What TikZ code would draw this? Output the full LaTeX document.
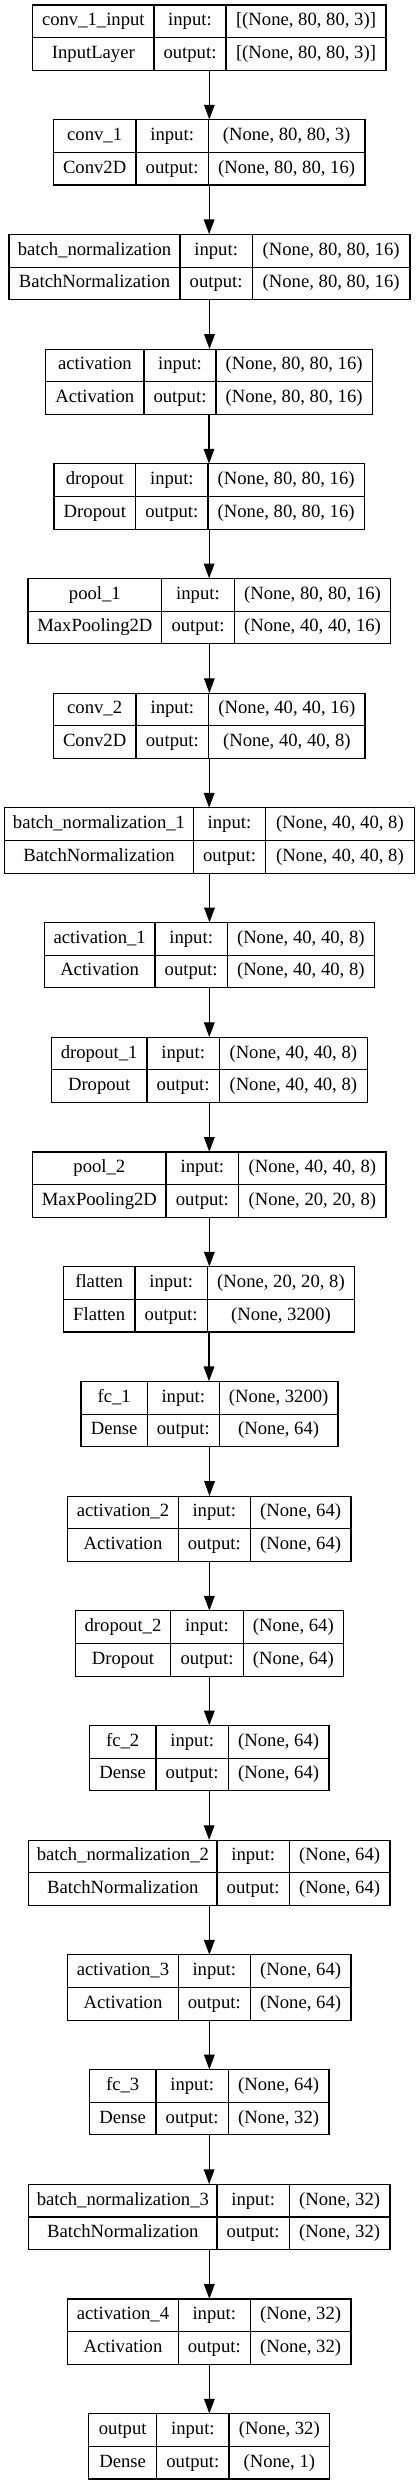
\documentclass[tikz,border=0pt]{standalone}
\usepackage{fontspec}
\setmainfont{Liberation Serif}
\usetikzlibrary{arrows.meta}
\tikzset{
  cell/.style={draw, line width=0.8pt, inner sep=0pt, text height=9.6pt, text depth=3pt,
    font=\fontsize{14pt}{16pt}\selectfont},
  layerbox/.style={inner sep=0pt, draw=none},
  arr/.style={line width=0.8pt, -{Triangle[length=11pt,width=8pt]}},
}
\newcommand{\klayer}[9]{%
  \pgfmathsetmacro{\kty}{5+114.7*#1}%
  \pgfmathsetmacro{\kmy}{\kty+32.65}%
  \pgfmathsetmacro{\krA}{\kty+16.325}%
  \pgfmathsetmacro{\krB}{\kty+48.975}%
  \node[layerbox, minimum width={(#5-#2)*0.75pt}, minimum height={65.3*0.75pt}] (L#1) at ({(#2+#5)/2},\kmy) {};
  \node[cell, minimum width={(#3-#2)*0.75pt}, minimum height={32.65*0.75pt}] (L#1a) at ({(#2+#3)/2},\krA) {#6};
  \node[cell, minimum width={(#4-#3)*0.75pt}, minimum height={32.65*0.75pt}] (L#1b) at ({(#3+#4)/2},\krA) {input:};
  \node[cell, minimum width={(#5-#4)*0.75pt}, minimum height={32.65*0.75pt}] (L#1c) at ({(#4+#5)/2},\krA) {#8};
  \node[cell, minimum width={(#3-#2)*0.75pt}, minimum height={32.65*0.75pt}] (L#1d) at ({(#2+#3)/2},\krB) {#7};
  \node[cell, minimum width={(#4-#3)*0.75pt}, minimum height={32.65*0.75pt}] (L#1e) at ({(#3+#4)/2},\krB) {output:};
  \node[cell, minimum width={(#5-#4)*0.75pt}, minimum height={32.65*0.75pt}] (L#1f) at ({(#4+#5)/2},\krB) {#9};
}
\begin{document}
\begin{tikzpicture}[x=0.75pt, y=-0.75pt]
\useasboundingbox[fill=white] (0,0) rectangle (419,2485);
\klayer{0}{32.7}{154}{226}{386}{conv\_1\_input}{InputLayer}{[(None, 80, 80, 3)]}{[(None, 80, 80, 3)]}
\klayer{1}{53.3}{136}{208.3}{365}{conv\_1}{Conv2D}{(None, 80, 80, 3)}{(None, 80, 80, 16)}
\klayer{2}{9}{180}{252.3}{410}{batch\_normalization}{BatchNormalization}{(None, 80, 80, 16)}{(None, 80, 80, 16)}
\klayer{3}{45.7}{144}{216}{372.3}{activation}{Activation}{(None, 80, 80, 16)}{(None, 80, 80, 16)}
\klayer{4}{54}{135.7}{208}{364.3}{dropout}{Dropout}{(None, 80, 80, 16)}{(None, 80, 80, 16)}
\klayer{5}{28}{161.7}{234.3}{390.7}{pool\_1}{MaxPooling2D}{(None, 80, 80, 16)}{(None, 40, 40, 16)}
\klayer{6}{53.3}{136}{208.7}{365}{conv\_2}{Conv2D}{(None, 40, 40, 16)}{(None, 40, 40, 8)}
\klayer{7}{4.7}{193.3}{265.7}{414.3}{batch\_normalization\_1}{BatchNormalization}{(None, 40, 40, 8)}{(None, 40, 40, 8)}
\klayer{8}{44.3}{155}{227.3}{374.3}{activation\_1}{Activation}{(None, 40, 40, 8)}{(None, 40, 40, 8)}
\klayer{9}{51.3}{147}{219.3}{367.3}{dropout\_1}{Dropout}{(None, 40, 40, 8)}{(None, 40, 40, 8)}
\klayer{10}{32.7}{166}{238.7}{386}{pool\_2}{MaxPooling2D}{(None, 40, 40, 8)}{(None, 20, 20, 8)}
\klayer{11}{63.3}{135}{207.3}{354.7}{flatten}{Flatten}{(None, 20, 20, 8)}{(None, 3200)}
\klayer{12}{81}{147.3}{219.3}{338}{fc\_1}{Dense}{(None, 3200)}{(None, 64)}
\klayer{13}{67.7}{178.3}{250.3}{351}{activation\_2}{Activation}{(None, 64)}{(None, 64)}
\klayer{14}{75.3}{170.7}{243.3}{343.3}{dropout\_2}{Dropout}{(None, 64)}{(None, 64)}
\klayer{15}{89.3}{156}{228.3}{329}{fc\_2}{Dense}{(None, 64)}{(None, 64)}
\klayer{16}{28.7}{217}{289.3}{390}{batch\_normalization\_2}{BatchNormalization}{(None, 64)}{(None, 64)}
\klayer{17}{67.7}{178.3}{250.3}{351}{activation\_3}{Activation}{(None, 64)}{(None, 64)}
\klayer{18}{89.3}{156}{228.3}{329}{fc\_3}{Dense}{(None, 64)}{(None, 32)}
\klayer{19}{28.7}{217}{289.3}{390}{batch\_normalization\_3}{BatchNormalization}{(None, 32)}{(None, 32)}
\klayer{20}{67.7}{178.3}{250.3}{351}{activation\_4}{Activation}{(None, 32)}{(None, 32)}
\klayer{21}{88.7}{156.7}{229}{329.7}{output}{Dense}{(None, 32)}{(None, 1)}
\foreach \i [evaluate=\i as \j using int(\i+1)] in {0,...,20}{
  \draw[arr] (L\i.south) -- (L\i.south |- L\j.north);
}
\end{tikzpicture}
\end{document}
